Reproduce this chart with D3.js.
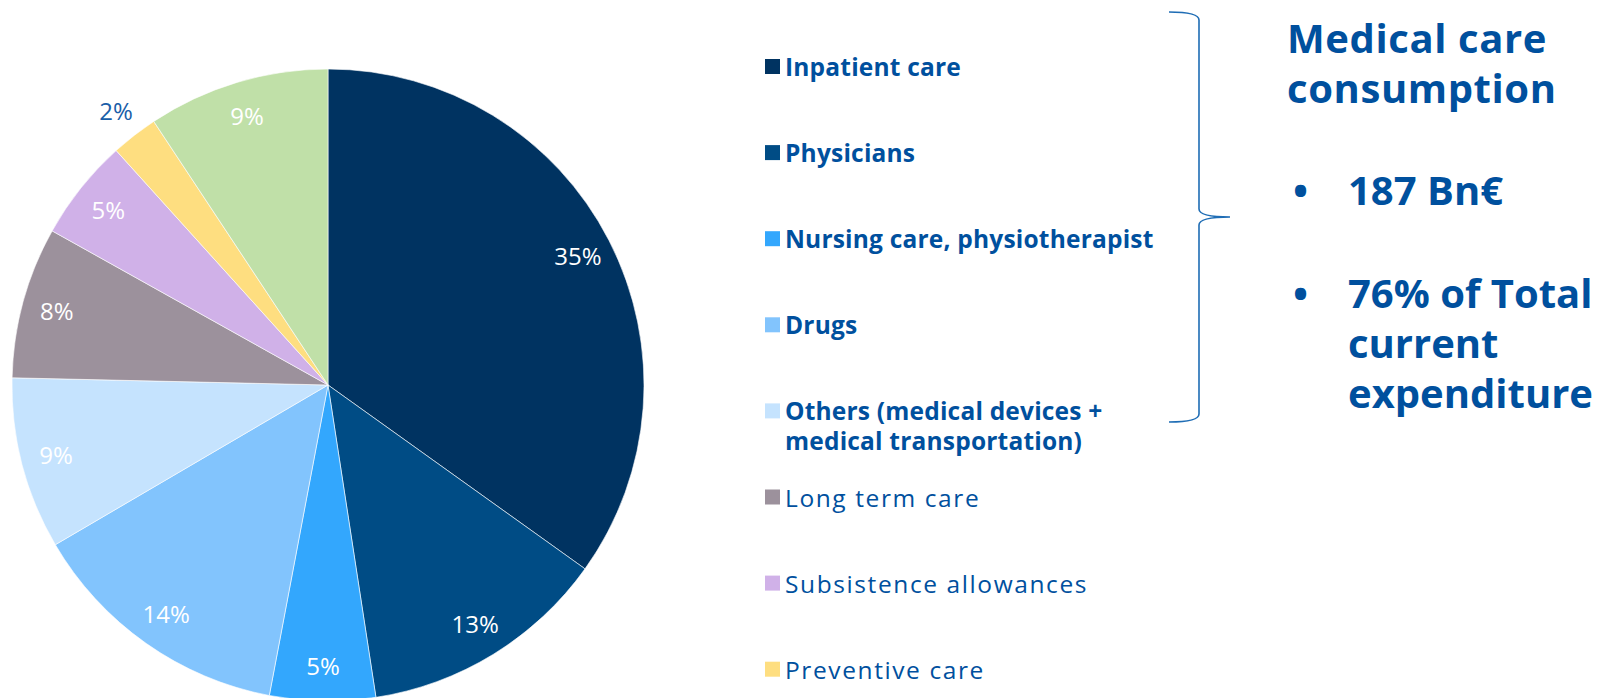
<!DOCTYPE html>
<meta charset="utf-8">
<style>
  body { margin: 0; background: #fff; }
  text { font-family: "Century Gothic", "Open Sans", sans-serif; }
</style>
<svg width="1608" height="698"></svg>
<script src="https://d3js.org/d3.v7.min.js"></script>
<script>
// expenditure shares, %, clockwise from 12 o'clock
var categories = ["Inpatient care", "Physicians", "Nursing care, physiotherapist", "Drugs",
                  "Others (medical devices + medical transportation)", "Long term care",
                  "Subsistence allowances", "Preventive care", "Management costs"];
var shares = [34.9, 12.7, 5.4, 13.6, 8.8, 7.75, 5.2, 2.4, 9.3];
// first five belong to medical care consumption (bold in legend)
var medicalCare = [true, true, true, true, true, false, false, false, false];
var legendLines = [["Inpatient care"], ["Physicians"], ["Nursing care, physiotherapist"], ["Drugs"],
                   ["Others (medical devices +", "medical transportation)"], ["Long term care"],
                   ["Subsistence allowances"], ["Preventive care"]];
var sideTitle = ["Medical care", "consumption"];
var sideBullets = [["187 Bn€"], ["76% of Total", "current", "expenditure"]];

var palette = ["#003361", "#004c85", "#33a7fd", "#82c4fd", "#c5e3fe", "#9c919c", "#d0b1e8", "#fede80", "#c0e0a8"];
var blue = "#00509e";

var svg = d3.select("svg");

var cx = 328, cy = 385, r = 316;
var total = d3.sum(shares);

var pie = d3.pie().sort(null).value(function(d) { return d; });
var arcs = pie(shares);

var arc = d3.arc().innerRadius(0).outerRadius(r);
var labelArc = d3.arc().innerRadius(281).outerRadius(281);
var outerLabelArc = d3.arc().innerRadius(346).outerRadius(346);

var g = svg.append("g").attr("transform", "translate(" + cx + "," + cy + ")");

g.selectAll("path")
    .data(arcs)
  .enter().append("path")
    .attr("d", arc)
    .attr("fill", function(d, i) { return palette[i]; })
    .attr("stroke", "#fff")
    .attr("stroke-width", 0.6);

g.selectAll("text.lbl")
    .data(arcs)
  .enter().append("text")
    .attr("class", "lbl")
    .attr("transform", function(d) {
      var c = d.data < 3 ? outerLabelArc.centroid(d) : labelArc.centroid(d);
      return "translate(" + c + ")";
    })
    .attr("text-anchor", "middle")
    .attr("dy", "0.36em")
    .attr("font-size", 24)
    .attr("fill", function(d) { return d.data < 3 ? "#1a5ea8" : "#fff"; })
    .text(function(d) { return Math.round(d.data / total * 100) + "%"; });

// legend
var leg = svg.append("g").attr("transform", "translate(765,0)");
var ly = d3.scalePoint().domain(d3.range(legendLines.length)).range([66.5, 66.5 + 86.1 * 7]);

var item = leg.selectAll("g")
    .data(legendLines)
  .enter().append("g")
    .attr("transform", function(d, i) { return "translate(0," + ly(i) + ")"; });

item.append("rect")
    .attr("x", 0)
    .attr("y", -7.5)
    .attr("width", 15)
    .attr("height", 15)
    .attr("fill", function(d, i) { return palette[i]; });

item.each(function(lines, i) {
  var t = d3.select(this).append("text")
      .attr("x", 20)
      .attr("y", 9.5)
      .attr("font-size", 24.5)
      .attr("font-weight", medicalCare[i] ? "bold" : "normal")
      .attr("letter-spacing", medicalCare[i] ? 0.2 : 1.6)
      .attr("fill", blue);
  lines.forEach(function(s, k) {
    t.append("tspan").attr("x", 20).attr("dy", k ? 30 : 0).text(s);
  });
});

// brace
svg.append("path")
    .attr("d", "M1169,12 Q1199,12 1199,20 L1199,209 Q1199,217 1230,217 Q1199,217 1199,225 L1199,414 Q1199,422 1169,422")
    .attr("fill", "none")
    .attr("stroke", "#1f6db5")
    .attr("stroke-width", 1.6);

// side text
var side = svg.append("g").attr("fill", blue).attr("font-weight", "bold").attr("font-size", 40);
var title = side.append("text")
    .attr("x", 1287)
    .attr("y", 52.5)
    .attr("letter-spacing", 0.6);
sideTitle.forEach(function(s, k) {
  title.append("tspan").attr("x", 1287).attr("dy", k ? 50 : 0).text(s);
});

var bulletY = [205, 308];
sideBullets.forEach(function(lines, b) {
  side.append("text")
      .attr("x", 1293)
      .attr("y", bulletY[b])
      .attr("font-family", "Arial, 'Liberation Sans', sans-serif")
      .text("•");
  var t = side.append("text")
      .attr("x", 1348)
      .attr("y", bulletY[b]);
  lines.forEach(function(s, k) {
    t.append("tspan").attr("x", 1348).attr("dy", k ? 50 : 0).text(s);
  });
});
</script>
